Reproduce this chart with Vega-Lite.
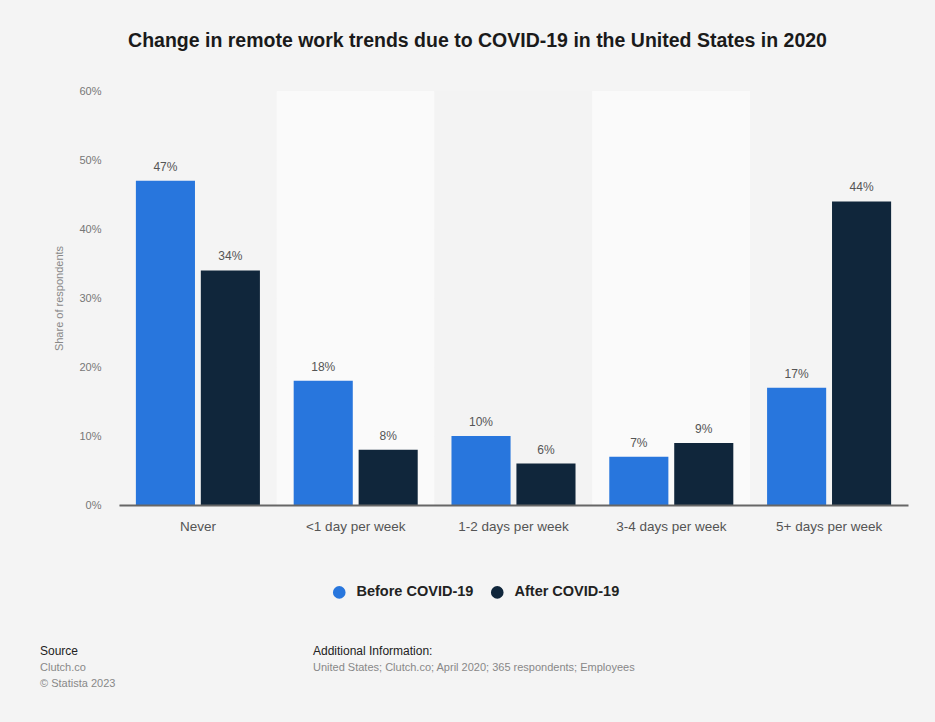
{
  "$schema": "https://vega.github.io/schema/vega-lite/v6.json",
  "width": 789,
  "height": 414,
  "autosize": {"type": "none"},
  "padding": {"left": 119, "top": 91, "right": 27, "bottom": 217},
  "background": "#f4f4f4",
  "config": {
    "font": "Liberation Sans",
    "view": {"stroke": null}
  },
  "title": {
    "text": "Change in remote work trends due to COVID-19 in the United States in 2020",
    "fontSize": 19.5,
    "fontWeight": "bold",
    "color": "#1a1a1a",
    "anchor": "middle",
    "dx": -36,
    "offset": 34,
    "font": "Liberation Sans"
  },
  "data": {
    "values": [
      {"category": "Never", "period": "Before COVID-19", "share": 47},
      {"category": "Never", "period": "After COVID-19", "share": 34},
      {"category": "<1 day per week", "period": "Before COVID-19", "share": 18},
      {"category": "<1 day per week", "period": "After COVID-19", "share": 8},
      {"category": "1-2 days per week", "period": "Before COVID-19", "share": 10},
      {"category": "1-2 days per week", "period": "After COVID-19", "share": 6},
      {"category": "3-4 days per week", "period": "Before COVID-19", "share": 7},
      {"category": "3-4 days per week", "period": "After COVID-19", "share": 9},
      {"category": "5+ days per week", "period": "Before COVID-19", "share": 17},
      {"category": "5+ days per week", "period": "After COVID-19", "share": 44}
    ]
  },
  "encoding": {
    "x": {
      "field": "category",
      "type": "nominal",
      "sort": ["Never", "<1 day per week", "1-2 days per week", "3-4 days per week", "5+ days per week"],
      "scale": {"paddingInner": 0, "paddingOuter": 0},
      "axis": {
        "title": null,
        "labelAngle": 0,
        "labelFontSize": 13.5,
        "labelColor": "#555",
        "labelPadding": 14,
        "ticks": false,
        "domainColor": "#666",
        "domainWidth": 2,
        "zindex": 2
      }
    }
  },
  "layer": [
    {
      "mark": {"type": "rect"},
      "encoding": {
        "y": {"datum": 60, "type": "quantitative", "scale": {"domain": [0, 60]}},
        "y2": {"datum": 0},
        "fill": {
          "condition": [
            {"test": "datum.category === '<1 day per week' || datum.category === '3-4 days per week'", "value": "#fafafa"},
            {"test": "datum.category === '1-2 days per week'", "value": "#f3f3f3"}
          ],
          "value": "#f4f4f4"
        }
      }
    },
    {
      "mark": {"type": "bar"},
      "encoding": {
        "xOffset": {
          "field": "period",
          "sort": ["Before COVID-19", "After COVID-19"],
          "scale": {"paddingInner": 0.09, "paddingOuter": 0.26}
        },
        "y": {
          "field": "share",
          "type": "quantitative",
          "scale": {"domain": [0, 60]},
          "axis": {
            "title": "Share of respondents",
            "titleFontSize": 11,
            "titleFontWeight": "normal",
            "titleColor": "#888",
            "titlePadding": 14,
            "values": [0, 10, 20, 30, 40, 50, 60],
            "labelExpr": "datum.value + '%'",
            "labelFontSize": 11,
            "labelColor": "#777",
            "labelPadding": 18,
            "ticks": false,
            "domain": false,
            "grid": true,
            "gridColor": "#cccccc",
            "gridDash": [1, 2],
            "gridWidth": 1
          }
        },
        "color": {
          "field": "period",
          "type": "nominal",
          "sort": ["Before COVID-19", "After COVID-19"],
          "scale": {"domain": ["Before COVID-19", "After COVID-19"], "range": ["#2876dd", "#10263b"]},
          "legend": {
            "title": null,
            "orient": "none",
            "direction": "horizontal",
            "legendX": 213,
            "legendY": 494,
            "symbolType": "circle",
            "symbolSize": 160,
            "symbolStrokeWidth": 0,
            "labelFontSize": 14.5,
            "labelFontWeight": "bold",
            "labelColor": "#222",
            "labelFont": "Liberation Sans",
            "columnPadding": 16,
            "labelOffset": 10
          }
        }
      }
    },
    {
      "mark": {"type": "text", "baseline": "bottom", "dy": -7, "fontSize": 12, "color": "#555", "text": {"expr": "datum.share + '%'"}},
      "encoding": {
        "xOffset": {
          "field": "period",
          "sort": ["Before COVID-19", "After COVID-19"],
          "scale": {"paddingInner": 0.09, "paddingOuter": 0.26}
        },
        "y": {"field": "share", "type": "quantitative"}
      }
    },
    {
      "data": {"values": [{}]},
      "mark": {"type": "text", "text": "Source", "align": "left", "baseline": "alphabetic", "fontSize": 12, "color": "#222"},
      "encoding": {"x": {"value": -79}, "y": {"value": 564}}
    },
    {
      "data": {"values": [{}]},
      "mark": {"type": "text", "text": ["Clutch.co", "© Statista 2023"], "lineHeight": 16, "align": "left", "baseline": "alphabetic", "fontSize": 11, "color": "#888"},
      "encoding": {"x": {"value": -79}, "y": {"value": 580}}
    },
    {
      "data": {"values": [{}]},
      "mark": {"type": "text", "text": "Additional Information:", "align": "left", "baseline": "alphabetic", "fontSize": 12, "color": "#222"},
      "encoding": {"x": {"value": 194}, "y": {"value": 564}}
    },
    {
      "data": {"values": [{}]},
      "mark": {"type": "text", "text": "United States; Clutch.co; April 2020; 365 respondents; Employees", "align": "left", "baseline": "alphabetic", "fontSize": 11, "color": "#888"},
      "encoding": {"x": {"value": 194}, "y": {"value": 580}}
    }
  ]
}
